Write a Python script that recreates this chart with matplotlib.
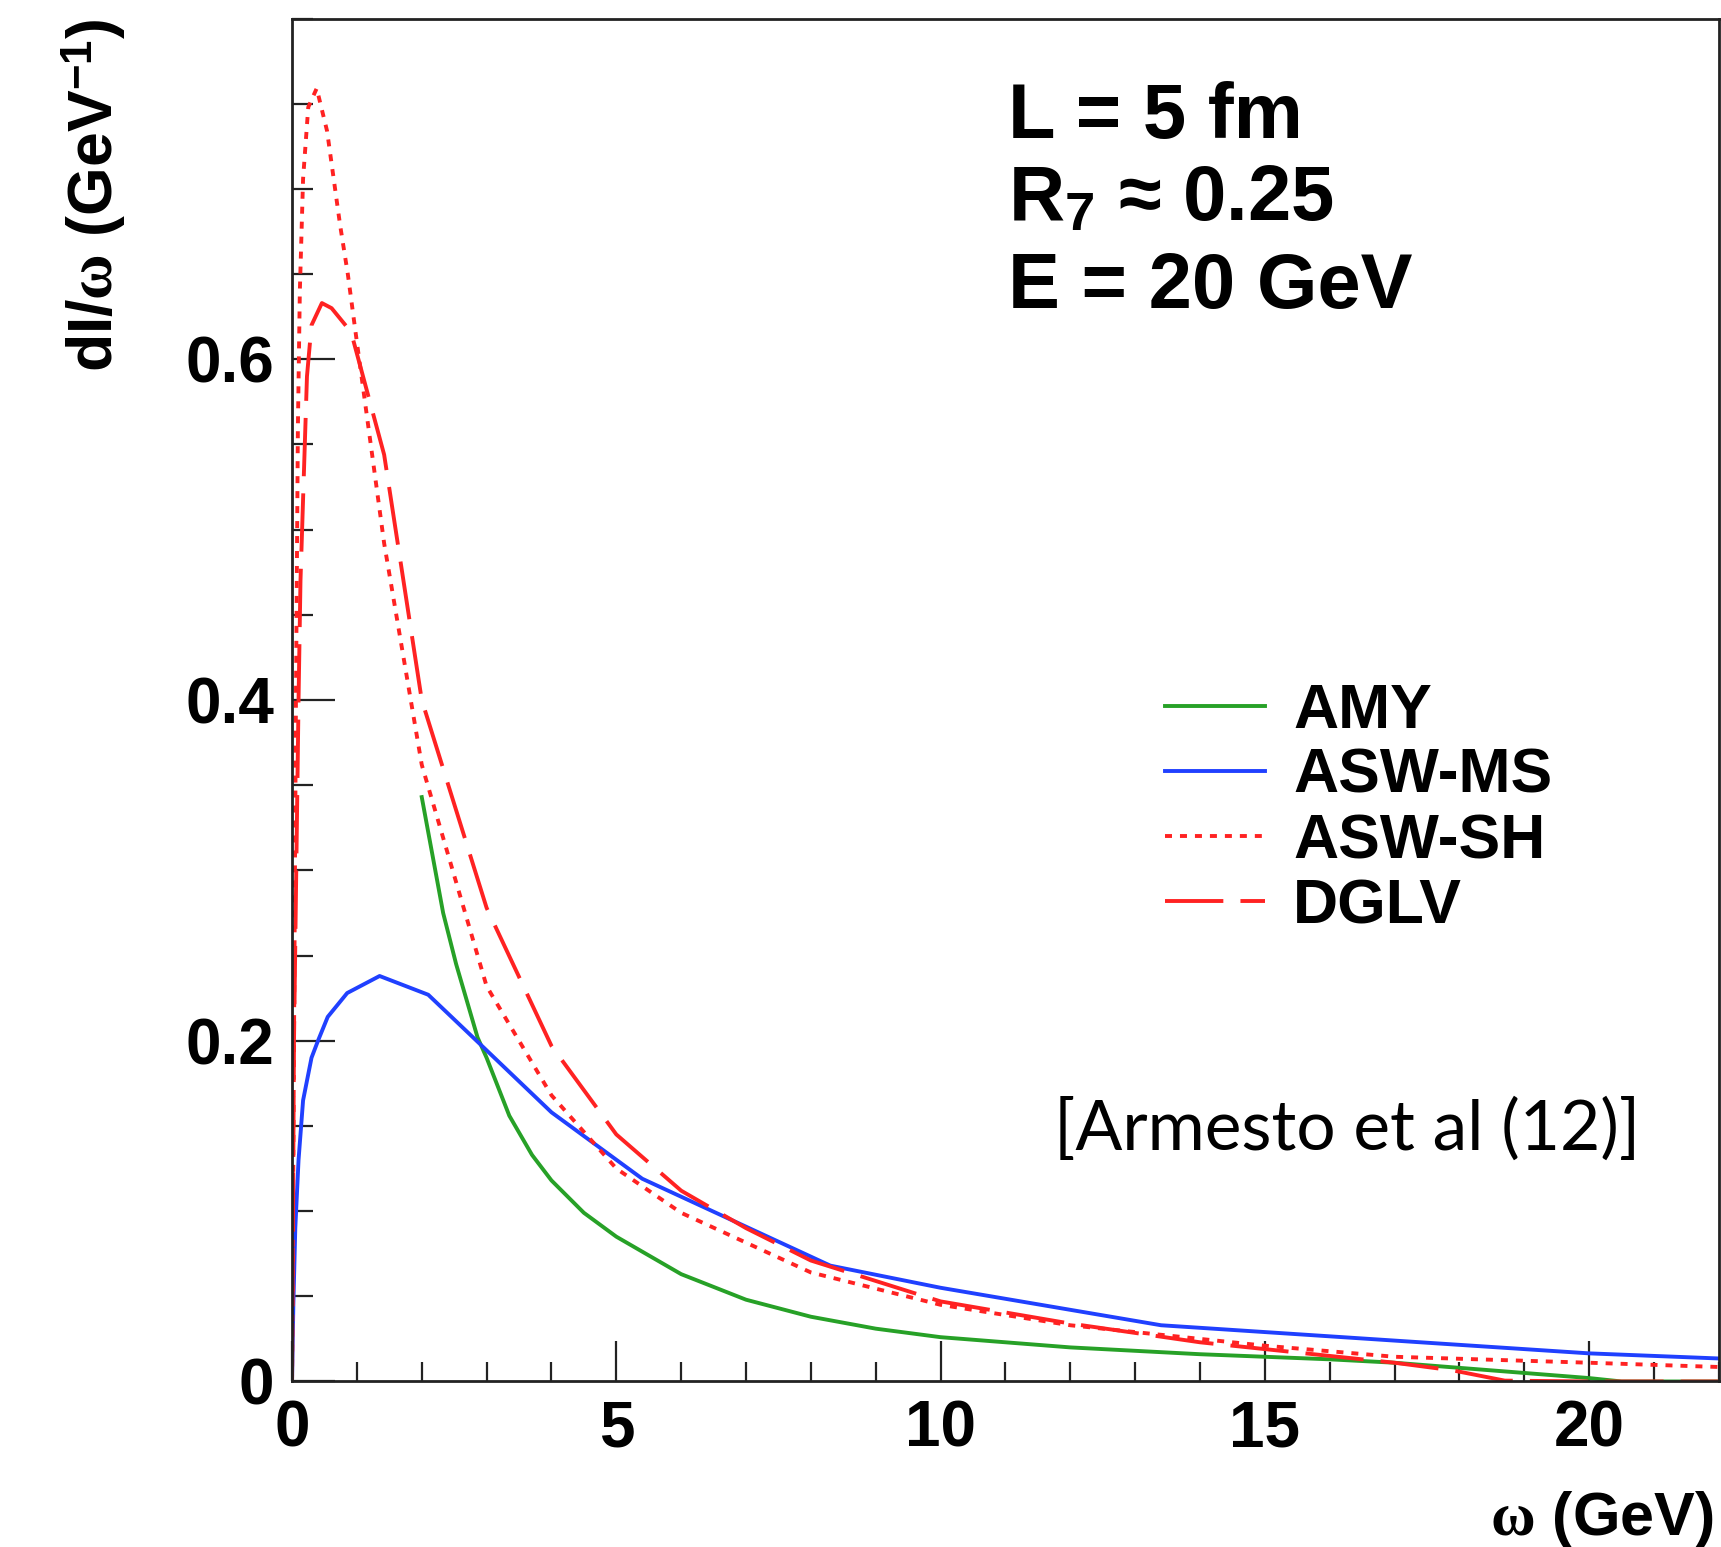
import matplotlib
matplotlib.use("Agg")
import matplotlib.pyplot as plt
from matplotlib.ticker import MultipleLocator

# ---------------- data ----------------
amy_x = [2.0, 2.17, 2.33, 2.53, 2.86, 3.0, 3.35, 3.7, 4.0, 4.5, 5.0, 6.0, 7.0,
         8.0, 9.0, 10.0, 12.0, 14.0, 16.0, 17.0, 18.0, 19.0, 20.0, 20.5, 22.0]
amy_y = [0.343, 0.308, 0.275, 0.245, 0.202, 0.19, 0.156, 0.133, 0.118, 0.099,
         0.085, 0.063, 0.048, 0.038, 0.031, 0.026, 0.020, 0.016, 0.013, 0.011,
         0.008, 0.005, 0.002, 0.0, 0.0]

aswms_x = [0.0, 0.02, 0.05, 0.1, 0.17, 0.3, 0.4, 0.55, 0.85, 1.35, 2.1, 2.9,
           4.0, 5.4, 8.3, 10.0, 13.4, 17.0, 20.0, 22.0]
aswms_y = [0.0, 0.045, 0.09, 0.13, 0.165, 0.19, 0.20, 0.214, 0.228, 0.238,
           0.227, 0.198, 0.158, 0.119, 0.068, 0.055, 0.033, 0.024, 0.0165, 0.0135]

aswsh_x = [0.0, 0.03, 0.06, 0.09, 0.12, 0.17, 0.25, 0.38, 0.54, 0.74, 0.86, 1.0,
           1.42, 2.0, 3.0, 4.0, 5.0, 6.0, 8.0, 10.0, 12.0, 15.0, 17.0, 20.0, 22.0]
aswsh_y = [0.0, 0.2, 0.4, 0.56, 0.64, 0.706, 0.748, 0.759, 0.734, 0.679, 0.65,
           0.61, 0.492, 0.362, 0.232, 0.168, 0.125, 0.099, 0.064, 0.045, 0.033,
           0.021, 0.0145, 0.011, 0.0085]

dglv_x = [0.0, 0.03, 0.1, 0.13, 0.18, 0.23, 0.3, 0.46, 0.61, 0.91, 1.42, 2.0,
          3.0, 4.0, 5.0, 6.0, 7.0, 8.0, 10.0, 12.0, 14.0, 16.0, 17.0, 17.9,
          18.7, 20.0, 22.0]
dglv_y = [0.0, 0.2, 0.4, 0.47, 0.53, 0.59, 0.62, 0.633, 0.63, 0.616, 0.544,
          0.40, 0.278, 0.197, 0.145, 0.112, 0.09, 0.071, 0.047, 0.034, 0.023,
          0.015, 0.011, 0.0065, 0.0005, 0.0, 0.0]

series_labels = ["AMY", "ASW-MS", "ASW-SH", "DGLV"]
x_ticks = [0, 5, 10, 15, 20]
y_ticks = [0, 0.2, 0.4, 0.6]
y_tick_labels = ["0", "0.2", "0.4", "0.6"]
info_lines = ["L = 5 fm", r"R$_{\mathbf{7}}$ ≈ 0.25", "E = 20 GeV"]
citation = "[Armesto et al (12)]"

# ---------------- style ----------------
plt.rcParams["font.family"] = ["Liberation Sans", "DejaVu Sans"]
plt.rcParams["font.weight"] = "bold"
plt.rcParams["mathtext.fontset"] = "custom"
plt.rcParams["mathtext.rm"] = "Liberation Sans:bold"
plt.rcParams["mathtext.bf"] = "Liberation Sans:bold"
plt.rcParams["mathtext.it"] = "Liberation Serif"
plt.rcParams["mathtext.default"] = "it"

GREEN = "#27a127"
BLUE = "#2040ff"
RED = "#ff2222"

fig = plt.figure(figsize=(17.21, 15.47), dpi=100)
ax = fig.add_axes([0.1697, 0.107, 0.829, 0.881])

lw = 2.8
ax.plot(amy_x, amy_y, color=GREEN, lw=lw, label=series_labels[0])
ax.plot(aswms_x, aswms_y, color=BLUE, lw=lw, label=series_labels[1])
ax.plot(aswsh_x, aswsh_y, color=RED, lw=lw, linestyle=(0, (1.8, 2.05)),
        label=series_labels[2])
ax.plot(dglv_x, dglv_y, color=RED, lw=lw, linestyle=(0, (15, 4.4)),
        label=series_labels[3])

ax.set_xlim(0, 22)
ax.set_ylim(0, 0.8)
ax.set_xticks(x_ticks)
ax.set_yticks(y_ticks)
ax.set_yticklabels(y_tick_labels)
ax.xaxis.set_minor_locator(MultipleLocator(1))
ax.yaxis.set_minor_locator(MultipleLocator(0.05))

for s in ax.spines.values():
    s.set_linewidth(2.0)
    s.set_color("#222222")

ax.tick_params(axis="both", which="both", direction="in", top=False,
               right=False, width=1.6, color="#222222")
ax.tick_params(axis="y", which="major", length=31, pad=13, labelsize=46)
ax.tick_params(axis="y", which="minor", length=15)
ax.tick_params(axis="x", which="major", length=29, pad=13, labelsize=46)
ax.tick_params(axis="x", which="minor", length=14)
for lab in ax.get_xticklabels() + ax.get_yticklabels():
    lab.set_fontweight("bold")

ax.set_xlabel(r"$\omega$ (GeV)", fontsize=44, fontweight="bold", ha="right")
ax.xaxis.set_label_coords(0.9965, -0.079)
ax.set_ylabel(r"dI/$\omega$ (GeV$^{\mathbf{-1}}$)", fontsize=45,
              fontweight="bold", ha="right")
ax.yaxis.set_label_coords(-0.114, 1.0)

ys = [0.9127, 0.852, 0.788]
for t, yy in zip(info_lines, ys):
    ax.text(0.5015, yy, t, transform=ax.transAxes, fontsize=56,
            fontweight="bold", ha="left", va="baseline")

ax.text(0.534, 0.185, citation, transform=ax.transAxes, fontsize=50,
        family=["Lato", "DejaVu Sans"], fontweight="normal", ha="left",
        va="center", color="black")

leg = ax.legend(loc="upper left", bbox_to_anchor=(0.612, 0.5135), frameon=False,
                fontsize=45, handlelength=1.6, handletextpad=0.45,
                labelspacing=0.1, borderpad=0, borderaxespad=0)
for t in leg.get_texts():
    t.set_fontweight("bold")

fig.savefig("out.png", dpi=100)
